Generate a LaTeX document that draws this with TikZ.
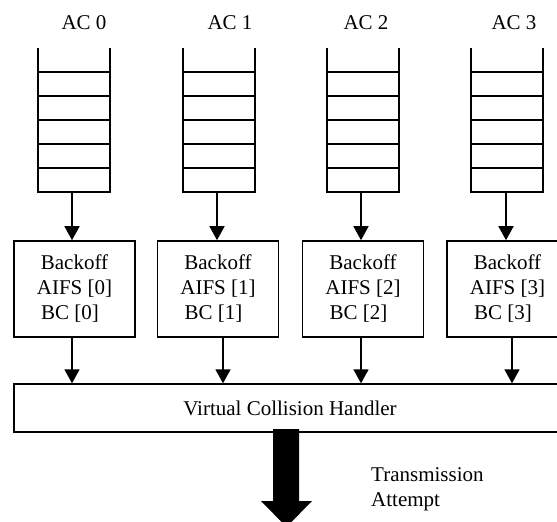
\documentclass[tikz,border=0pt]{standalone}
\usepackage{fontspec}
\setmainfont{Liberation Serif}
\usetikzlibrary{arrows.meta}
\tikzset{
  txt/.style = {font=\fontsize{21bp}{25bp}\selectfont, inner sep=0pt},
  queue/.style = {minimum width=72bp, minimum height=144bp, inner sep=0pt, outer sep=0pt},
  backoff/.style = {draw, line width=1.6bp, minimum width=121bp, minimum height=96bp,
                    align=center, txt},
  handler/.style = {draw, line width=1.4bp, minimum width=552bp, minimum height=48bp, txt},
  arr/.style = {line width=1.6bp, -{Triangle[length=14bp,width=15bp]}}
}

\begin{document}
\begin{tikzpicture}[x=1bp, y=-1bp]
	\def \rung{24}

	\useasboundingbox (0,0) rectangle (557,522);
	\clip (0,0) rectangle (557,522);

	% Labels
	\node[txt] (l0) at (84,23)  {AC 0};
	\node[txt] (l1) at (230,23) {AC 1};
	\node[txt] (l2) at (366,23) {AC 2};
	\node[txt] (l3) at (514,23) {AC 3};

	% Queues
	\node[queue] (q0) at (74,120)  {};
	\node[queue] (q1) at (219,120) {};
	\node[queue] (q2) at (362.5,120) {};
	\node[queue] (q3) at (507,120) {};
	\foreach \q in {q0,q1,q2,q3} {
		\draw[line width=2bp] (\q.north west) -- (\q.south west) -- (\q.south east) -- (\q.north east);
		\foreach \k in {1,...,5}
			\draw[line width=1.3bp] (\q.north west) ++(0,\k*\rung) -- ++(72,0);
	}

	% Backoff entities
	\node[backoff] (b0) at (74.5,289) {Backoff\\AIFS [0]\\BC [0]\hspace*{9bp}};
	\node[backoff] (b1) at (218,289)  {Backoff\\AIFS [1]\\BC [1]\hspace*{9bp}};
	\node[backoff] (b2) at (363,289)  {Backoff\\AIFS [2]\\BC [2]\hspace*{9bp}};
	\node[backoff] (b3) at (507.5,289) {Backoff\\AIFS [3]\\BC [3]\hspace*{9bp}};

	% Virtual collision handler
	\node[handler] (h) at (290,408) {Virtual Collision Handler};

	% Arrows
	\draw[arr] ([xshift=-2bp]q0.south) -- ([xshift=-2bp]q0.south |- b0.north);
	\draw[arr] ([xshift=-2bp]q1.south) -- ([xshift=-2bp]q1.south |- b1.north);
	\draw[arr] ([xshift=-1.5bp]q2.south) -- ([xshift=-1.5bp]q2.south |- b2.north);
	\draw[arr] ([xshift=-1bp]q3.south) -- ([xshift=-1bp]q3.south |- b3.north);
	\draw[arr] ([xshift=-2.5bp]b0.south) -- ([xshift=-2.5bp]b0.south |- h.north);
	\draw[arr] ([xshift=5bp]b1.south) -- ([xshift=5bp]b1.south |- h.north);
	\draw[arr] ([xshift=-2bp]b2.south) -- ([xshift=-2bp]b2.south |- h.north);
	\draw[arr] ([xshift=4.5bp]b3.south) -- ([xshift=4.5bp]b3.south |- h.north);

	% Transmission attempt
	\coordinate (tip) at (286.5,527);
	\fill[black] (273,429) -- (299,429) -- (299,501) -- (312,501) -- (tip)
		-- (261,501) -- (273,501) -- cycle;
	\node[txt, anchor=west, align=left] (tx) at (371,489) {Transmission\\Attempt};
\end{tikzpicture}
\end{document}
